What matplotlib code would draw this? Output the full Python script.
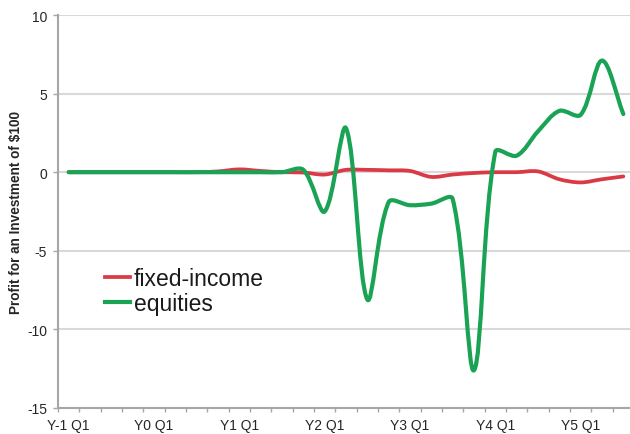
import numpy as np
import matplotlib
matplotlib.use('Agg')
import matplotlib.pyplot as plt
from matplotlib.path import Path
from matplotlib.patches import PathPatch
from matplotlib.lines import Line2D

plt.rcParams['font.family'] = ['Liberation Sans', 'DejaVu Sans']
plt.rcParams['axes.unicode_minus'] = False

# quarterly data, Y-1 Q1 .. Y5 Q3
quarters = list(range(27))
year_labels = ['Y-1 Q1', 'Y0 Q1', 'Y1 Q1', 'Y2 Q1', 'Y3 Q1', 'Y4 Q1', 'Y5 Q1']
fixed_income = [0, 0, 0, 0, 0, 0, 0, 0.05, 0.18, 0.08, 0.0, -0.02, -0.15, 0.15,
                0.15, 0.12, 0.08, -0.3, -0.15, -0.05, 0.0, 0.0, 0.05, -0.45,
                -0.65, -0.45, -0.27]
equities = [0, 0, 0, 0, 0, 0, 0, 0, 0, 0, 0.0, 0.15, -2.5, 2.8, -8.1, -1.9,
            -2.1, -2.0, -1.7, -12.6, 1.3, 1.05, 2.6, 3.9, 3.65, 7.1, 3.7]

red = '#d93a45'
green = '#1aa354'


def smooth_path(ax, x, y):
    # spreadsheet-style smoothing: bezier through the points, with the
    # handle lengths split by the on-screen length of each segment
    pts = np.column_stack([x, y]).astype(float)
    scr = ax.transData.transform(pts)
    n = len(pts)
    before = pts.copy()
    after = pts.copy()
    for i in range(n):
        a = max(i - 1, 0)
        b = min(i + 1, n - 1)
        d1 = np.hypot(*(scr[i] - scr[a]))
        d2 = np.hypot(*(scr[b] - scr[i]))
        if d1 + d2 == 0:
            continue
        tan = (pts[b] - pts[a]) / 3
        before[i] = pts[i] - tan * d1 / (d1 + d2)
        after[i] = pts[i] + tan * d2 / (d1 + d2)
    verts = [pts[0]]
    codes = [Path.MOVETO]
    for i in range(n - 1):
        verts += [after[i], before[i + 1], pts[i + 1]]
        codes += [Path.CURVE4] * 3
    return Path(verts, codes)


fig = plt.figure(figsize=(6.3, 4.35), dpi=100)
ax = fig.add_axes([58 / 630, 26 / 435, 576 / 630, 393 / 435])
ax.set_xlim(-0.5, 26.5)
ax.set_ylim(-15, 10)

ax.add_patch(PathPatch(smooth_path(ax, quarters, fixed_income), fill=False,
                       edgecolor=red, lw=2.7, capstyle='round',
                       joinstyle='round', zorder=3))
ax.add_patch(PathPatch(smooth_path(ax, quarters, equities), fill=False,
                       edgecolor=green, lw=3, capstyle='round',
                       joinstyle='round', zorder=4))

ax.set_yticks([-15, -10, -5, 0, 5, 10])
ax.set_xticks(quarters[::4])
ax.set_xticklabels(year_labels)
ax.set_xticks(np.arange(-0.5, 27, 1), minor=True)

ax.grid(axis='y', color='#d9d9d9', lw=1.5)
ax.set_axisbelow(True)
for s in ['top', 'right']:
    ax.spines[s].set_visible(False)
for s in ['left', 'bottom']:
    ax.spines[s].set_color('#a6a6a6')
    ax.spines[s].set_linewidth(1.5)

ax.tick_params(axis='y', length=3.6, width=1, color='#a6a6a6', pad=4.3,
               labelsize=10, labelcolor='#262626')
ax.tick_params(axis='x', which='major', length=0, pad=7, labelsize=10,
               labelcolor='#262626')
ax.tick_params(axis='x', which='minor', length=3, width=1, color='#a6a6a6')

ax.set_ylabel('Profit for an Investment of $100', fontsize=9.8,
              fontweight='bold', color='#262626', labelpad=3)

handles = [Line2D([], [], color=red, lw=2.7),
           Line2D([], [], color=green, lw=3)]
ax.legend(handles, ['fixed-income', 'equities'], loc='center left',
          bbox_to_anchor=(105 / 630, 1 - 292 / 435),
          bbox_transform=fig.transFigure, frameon=False, fontsize=16.5,
          handlelength=1.1, handletextpad=0.15, labelspacing=0.05,
          borderpad=0, borderaxespad=0, labelcolor='#1a1a1a')

fig.savefig('out.png', dpi=100)
